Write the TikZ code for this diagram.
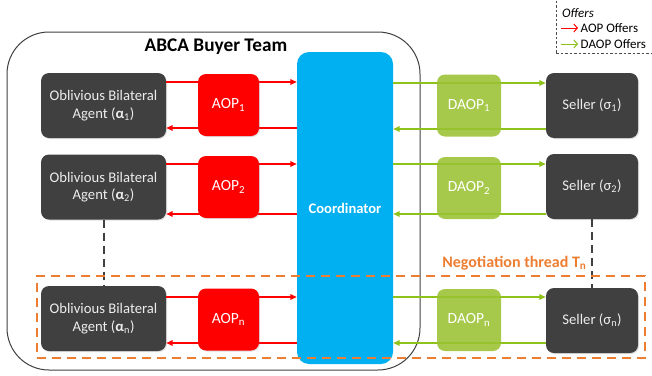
\documentclass[tikz,border=0pt]{standalone}
\usepackage{fontspec}
\setmainfont{Carlito}
\usetikzlibrary{arrows.meta,shadows}
\definecolor{dk}{HTML}{404040}
\definecolor{txtl}{HTML}{EDEDED}
\definecolor{aopred}{HTML}{FF0000}
\definecolor{grn}{HTML}{8CC21A}
\definecolor{daopg}{HTML}{9BC232}
\definecolor{cblue}{HTML}{00B0F0}
\definecolor{orng}{HTML}{ED7D31}
\tikzset{
  agentbox/.style={fill=dk, rounded corners=8pt, minimum width=125pt, minimum height=65pt, inner sep=0pt, align=center, text=txtl, font=\fontsize{14.7}{17.5}\selectfont, drop shadow={opacity=0.25, shadow xshift=1pt, shadow yshift=-1pt}},
  sellerbox/.style={agentbox, minimum width=92pt},
  aopbox/.style={fill=aopred, rounded corners=8pt, minimum width=61pt, minimum height=62pt, inner sep=0pt, text=white, font=\fontsize{15.5}{18}\selectfont, drop shadow={opacity=0.25, shadow xshift=1pt, shadow yshift=-1pt}},
  daopbox/.style={fill=daopg, fill opacity=0.88, text opacity=1, rounded corners=8pt, minimum width=64pt, minimum height=62pt, inner sep=0pt, text=white, font=\fontsize{15.5}{18}\selectfont},
  redarr/.style={draw=aopred, line width=1.5pt, -{Triangle[length=6.5pt,width=5.5pt]}},
  grnarr/.style={draw=grn, line width=1.6pt, -{Triangle[length=6.5pt,width=5.5pt]}},
  linkdash/.style={draw=dk, line width=2pt, dash pattern=on 8pt off 5pt},
}
\begin{document}
\begin{tikzpicture}[x=1pt,y=-1pt]
\useasboundingbox (0,0) rectangle (652,375);
% team box
\node[draw=black!75, line width=1pt, rounded corners=42pt, minimum width=413pt, minimum height=338pt, inner sep=0pt] (team) at (213.5,201) {};
\node[font=\fontsize{19.3}{22}\selectfont\bfseries] (title) at (216,47) {ABCA Buyer Team};
% coordinator
\node[fill=cblue, rounded corners=12pt, minimum width=96pt, minimum height=312pt, inner sep=0pt, text=white, font=\fontsize{14.6}{17}\selectfont\bfseries] (coord) at (345,208) {Coordinator};
% agents
\node[agentbox] (ag1) at (103.5,105.5) {Oblivious Bilateral\\Agent ({\bfseries α}\textsubscript{1})};
\node[agentbox] (ag2) at (103.5,187) {Oblivious Bilateral\\Agent ({\bfseries α}\textsubscript{2})};
\node[agentbox] (agn) at (103.5,318.5) {Oblivious Bilateral\\Agent ({\bfseries α}\textsubscript{n})};
% sellers
\node[sellerbox] (se1) at (592,105.5) {Seller (σ\textsubscript{1})};
\node[sellerbox] (se2) at (592,186.5) {Seller (σ\textsubscript{2})};
\node[sellerbox] (sen) at (592,320.5) {Seller (σ\textsubscript{n})};
% dashed links
\draw[linkdash] (ag2.south) -- (agn.north);
\draw[linkdash] (se2.south) -- (sen.north);
% red arrows
\draw[redarr] (ag1.east |- 0,82) -- (coord.west |- 0,82);
\draw[redarr] (coord.west |- 0,128) -- (ag1.east |- 0,128);
\draw[redarr] (ag2.east |- 0,164) -- (coord.west |- 0,164);
\draw[redarr] (coord.west |- 0,214) -- (ag2.east |- 0,214);
\draw[redarr] (agn.east |- 0,297) -- (coord.west |- 0,297);
\draw[redarr] (coord.west |- 0,343) -- (agn.east |- 0,343);
% green arrows
\draw[grnarr] (coord.east |- 0,83) -- (se1.west |- 0,83);
\draw[grnarr] (se1.west |- 0,129) -- (coord.east |- 0,129);
\draw[grnarr] (coord.east |- 0,164) -- (se2.west |- 0,164);
\draw[grnarr] (se2.west |- 0,214) -- (coord.east |- 0,214);
\draw[grnarr] (coord.east |- 0,297) -- (sen.west |- 0,297);
\draw[grnarr] (sen.west |- 0,343) -- (coord.east |- 0,343);
% AOP boxes
\node[aopbox] (aop1) at (228.5,105) {AOP\textsubscript{1}};
\node[aopbox] (aop2) at (228.5,187) {AOP\textsubscript{2}};
\node[aopbox] (aopn) at (228.5,319.5) {AOP\textsubscript{n}};
% DAOP boxes
\node[daopbox] (daop1) at (469,105.5) {DAOP\textsubscript{1}};
\node[daopbox] (daop2) at (469,188) {DAOP\textsubscript{2}};
\node[daopbox] (daopn) at (469,320) {DAOP\textsubscript{n}};
% negotiation thread
\node[draw=orng, line width=2.2pt, dash pattern=on 9pt off 6pt, minimum width=608pt, minimum height=82pt, inner sep=0pt] (thread) at (341,317) {};
\node[text=orng, font=\fontsize{16}{19}\selectfont\bfseries, anchor=east] (threadlbl) at (590,263) {Negotiation thread T\textsubscript{n}};
% legend
\node[draw=black!70, line width=0.8pt, dash pattern=on 2.5pt off 2pt, minimum width=96pt, minimum height=54pt, inner sep=0pt] (legend) at (604,26) {};
\node[font=\fontsize{13}{15}\selectfont\itshape, anchor=west, inner sep=0pt] (lgtitle) at (562,13) {Offers};
\coordinate (lr1) at (561,28);
\coordinate (lr2) at (578,28);
\draw[aopred, line width=1pt, -{Straight Barb[length=3.5pt,width=8pt]}] (lr1) -- (lr2);
\node[font=\fontsize{13}{15}\selectfont, anchor=west, inner sep=0pt] (lgaop) at (580.5,28.5) {AOP Offers};
\coordinate (lg1) at (561,44);
\coordinate (lg2) at (578,44);
\draw[grn, line width=1pt, -{Straight Barb[length=3.5pt,width=8pt]}] (lg1) -- (lg2);
\node[font=\fontsize{13}{15}\selectfont, anchor=west, inner sep=0pt] (lgdaop) at (580.5,44.5) {DAOP Offers};
\end{tikzpicture}
\end{document}
